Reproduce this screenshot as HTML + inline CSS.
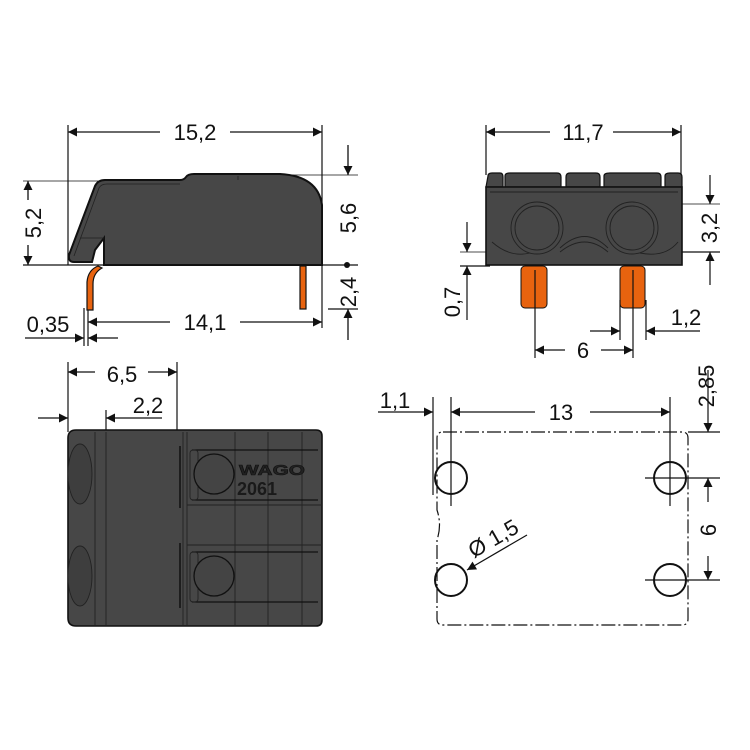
<!DOCTYPE html>
<html><head><meta charset="utf-8"><style>
html,body{margin:0;padding:0;background:#fff;}
svg{display:block;}
text{font-family:"Liberation Sans",sans-serif;font-size:22px;fill:#111;}
</style></head><body>
<svg width="750" height="750" viewBox="0 0 750 750" xmlns="http://www.w3.org/2000/svg">
<defs>
<marker id="a" viewBox="0 0 10 10" refX="10" refY="5" markerWidth="16" markerHeight="9" markerUnits="userSpaceOnUse" orient="auto"><path d="M0,0 L10,5 L0,10 Z" fill="#111"/></marker>
</defs>
<g stroke="#111" stroke-width="1.2" fill="none">
<line x1="68" y1="125" x2="68" y2="265"/>
<line x1="322" y1="125" x2="322" y2="328"/>
<line x1="23" y1="181" x2="100" y2="181" stroke-width="0.8"/>
<line x1="23" y1="265" x2="358" y2="265"/>
<line x1="290" y1="175" x2="358" y2="175" stroke-width="0.8"/>
<line x1="328" y1="309" x2="358" y2="309"/>
<line x1="84" y1="308" x2="84" y2="346"/>
<line x1="88" y1="308" x2="88" y2="346"/>
</g>
<path d="M322,265 L104,265 L104,238 L95,250 L92,262 L74,262 Q68,262 69,255 L95,186 Q98,180 105,180 L180,180 Q184,180 186,177 Q188,174 194,174 L280,174 Q318,176 322,205 Z" fill="#474747" stroke="#111" stroke-width="2"/>
<path d="M74,256 L99,188 Q101,184 107,184 L180,184 M104,238 L80,238 M238,176 L238,180" stroke="#222" stroke-width="0.8" fill="none"/>
<path d="M98,266 Q88,270 87,282 L87,310 L93,310 L93,284 Q93,273 102,268 Z" fill="#e8630f" stroke="#111" stroke-width="1.2"/>
<rect x="300" y="266" width="6" height="43" fill="#e8630f" stroke="#111" stroke-width="1.2"/>
<g stroke="#111" stroke-width="1.3" fill="none">
<line x1="160" y1="132" x2="68" y2="132" marker-end="url(#a)"/>
<line x1="230" y1="132" x2="322" y2="132" marker-end="url(#a)"/>
<line x1="28" y1="200" x2="28" y2="181" marker-end="url(#a)"/>
<line x1="28" y1="245" x2="28" y2="265" marker-end="url(#a)"/>
<line x1="348" y1="145" x2="348" y2="175" marker-end="url(#a)"/>
<line x1="348" y1="340" x2="348" y2="309" marker-end="url(#a)"/>
<line x1="170" y1="322" x2="88" y2="322" marker-end="url(#a)"/>
<line x1="240" y1="322" x2="322" y2="322" marker-end="url(#a)"/>
<line x1="25" y1="338" x2="84" y2="338" marker-end="url(#a)"/>
<line x1="118" y1="338" x2="88" y2="338" marker-end="url(#a)"/>
</g>
<circle cx="347" cy="265" r="3" fill="#111"/>
<text x="195" y="140" text-anchor="middle">15,2</text>
<text transform="translate(41,223) rotate(-90)" text-anchor="middle">5,2</text>
<text transform="translate(356,218) rotate(-90)" text-anchor="middle">5,6</text>
<text transform="translate(356,292) rotate(-90)" text-anchor="middle">2,4</text>
<text x="205" y="330" text-anchor="middle">14,1</text>
<text x="48" y="332" text-anchor="middle">0,35</text>

<g stroke="#111" stroke-width="1.2" fill="none">
<line x1="486" y1="125" x2="486" y2="175"/>
<line x1="681" y1="125" x2="681" y2="175"/>
<line x1="640" y1="204" x2="720" y2="204" stroke-width="0.8"/>
<line x1="680" y1="252" x2="720" y2="252"/>
<line x1="460" y1="252" x2="490" y2="252" stroke-width="0.8"/>
<line x1="460" y1="266" x2="490" y2="266"/>
</g>
<path d="M488,176 Q488,173 492,173 L500,173 Q503,173 503,177 L503,187 L486,187 Z M505,176 Q505,173 510,173 L557,173 Q561,173 561,177 L561,187 L505,187 Z M566,177 Q566,173 570,173 L596,173 Q600,173 600,177 L600,187 L566,187 Z M604,176 Q604,173 610,173 L657,173 Q661,173 661,177 L661,187 L604,187 Z M665,176 Q665,173 670,173 L678,173 Q682,173 682,177 L682,187 L665,187 Z" fill="#474747" stroke="#111" stroke-width="1.2"/>
<rect x="486" y="187" width="196" height="78" fill="#474747" stroke="#111" stroke-width="1.6"/>
<g stroke="#222" stroke-width="0.9" fill="none">
<line x1="490" y1="192" x2="678" y2="192"/>
<circle cx="537" cy="228" r="22"/><circle cx="537" cy="228" r="26"/>
<circle cx="632" cy="228" r="22"/><circle cx="632" cy="228" r="26"/>
<path d="M492,242 Q510,258 530,253 M560,248 Q585,225 608,248 M640,253 Q665,258 678,242"/>
<path d="M560,252 Q585,232 608,252"/>
</g>
<rect x="521" y="266" width="26" height="42" rx="4" fill="#e8630f" stroke="#111" stroke-width="1"/>
<rect x="620" y="266" width="25" height="42" rx="4" fill="#e8630f" stroke="#111" stroke-width="1"/>
<g stroke="#111" stroke-width="1.2" fill="none">
<line x1="535" y1="270" x2="535" y2="358"/>
<line x1="633" y1="270" x2="633" y2="358"/>
<line x1="620" y1="300" x2="620" y2="340"/>
<line x1="646" y1="300" x2="646" y2="340"/>
<line x1="550" y1="132" x2="486" y2="132" marker-end="url(#a)"/>
<line x1="613" y1="132" x2="681" y2="132" marker-end="url(#a)"/>
<line x1="710" y1="175" x2="710" y2="204" marker-end="url(#a)"/>
<line x1="710" y1="285" x2="710" y2="252" marker-end="url(#a)"/>
<line x1="467" y1="222" x2="467" y2="252" marker-end="url(#a)"/>
<line x1="467" y1="320" x2="467" y2="266" marker-end="url(#a)"/>
<line x1="565" y1="350" x2="535" y2="350" marker-end="url(#a)"/>
<line x1="601" y1="350" x2="633" y2="350" marker-end="url(#a)"/>
<line x1="590" y1="331" x2="620" y2="331" marker-end="url(#a)"/>
<line x1="700" y1="331" x2="646" y2="331" marker-end="url(#a)"/>
</g>
<text x="583" y="140" text-anchor="middle">11,7</text>
<text transform="translate(717,228) rotate(-90)" text-anchor="middle">3,2</text>
<text transform="translate(460,302) rotate(-90)" text-anchor="middle">0,7</text>
<text x="583" y="358" text-anchor="middle">6</text>
<text x="686" y="325" text-anchor="middle">1,2</text>

<g stroke="#111" stroke-width="1.2" fill="none">
<line x1="68" y1="362" x2="68" y2="432"/>
<line x1="177" y1="362" x2="177" y2="432"/>
<line x1="106" y1="410" x2="106" y2="432"/>
<line x1="95" y1="372" x2="68" y2="372" marker-end="url(#a)"/>
<line x1="148" y1="372" x2="177" y2="372" marker-end="url(#a)"/>
<line x1="38" y1="418" x2="68" y2="418" marker-end="url(#a)"/>
<line x1="162" y1="418" x2="106" y2="418" marker-end="url(#a)"/>
</g>
<path d="M76,430 L316,430 Q322,430 322,436 L322,620 Q322,626 316,626 L76,626 Q68,626 68,618 L68,438 Q68,430 76,430 Z" fill="#474747" stroke="#111" stroke-width="1.6"/>
<g stroke="#222" stroke-width="0.9" fill="none">
<ellipse cx="80" cy="474" rx="12" ry="30" fill="#3e3e3e"/>
<ellipse cx="80" cy="576" rx="12" ry="30" fill="#3e3e3e"/>
<line x1="106" y1="432" x2="106" y2="625"/>
<line x1="95" y1="432" x2="95" y2="625"/>
<line x1="183" y1="432" x2="183" y2="625"/>
<line x1="187" y1="432" x2="187" y2="625"/>
<line x1="187" y1="505" x2="322" y2="505"/>
<line x1="187" y1="545" x2="322" y2="545"/>
<line x1="235" y1="432" x2="235" y2="625"/>
<line x1="268" y1="432" x2="268" y2="625"/>
<line x1="302" y1="432" x2="302" y2="625"/>
<path d="M180,446 L180,508 M180,543 L180,608" stroke="#111" stroke-width="1.5"/>
<path d="M192,450 L318,450 M192,500 L318,500 M192,552 L318,552 M192,602 L318,602" stroke="#111" stroke-width="1.3"/>
<rect x="190" y="450" width="8" height="50" rx="3"/>
<rect x="190" y="552" width="8" height="50" rx="3"/>
</g>
<circle cx="214" cy="474" r="20" fill="#444" stroke="#111" stroke-width="1.3"/>
<circle cx="214" cy="576" r="20" fill="#444" stroke="#111" stroke-width="1.3"/>
<text x="239" y="475" style="font-size:15px;font-weight:bold;fill:#222;stroke:#111;stroke-width:0.6" textLength="66" lengthAdjust="spacingAndGlyphs">WAGO</text>
<text x="237" y="495" style="font-size:18px;font-weight:bold;fill:#1a1a1a" textLength="40" lengthAdjust="spacingAndGlyphs">2061</text>
<text x="122" y="382" text-anchor="middle">6,5</text>
<text x="148" y="413" text-anchor="middle">2,2</text>

<g stroke="#111" stroke-width="1.2" fill="none">
<path d="M443,432 L682,432 Q688,432 688,438 L688,619 Q688,625 682,625 L443,625 Q437,625 437,619 L437,540 Q442,525 437,510 L437,438 Q437,432 443,432 Z" stroke-dasharray="14,3,2,3"/>
<line x1="433" y1="397" x2="433" y2="495"/>
<line x1="451" y1="397" x2="451" y2="506"/>
<line x1="670" y1="397" x2="670" y2="506"/>
<line x1="645" y1="478" x2="720" y2="478"/>
<line x1="645" y1="580" x2="720" y2="580"/>
<line x1="688" y1="432" x2="720" y2="432"/>
<circle cx="451" cy="478" r="16" stroke-width="2"/>
<circle cx="670" cy="478" r="16" stroke-width="2"/>
<circle cx="451" cy="580" r="16" stroke-width="2"/>
<circle cx="670" cy="580" r="16" stroke-width="2"/>
<line x1="378" y1="412" x2="433" y2="412" marker-end="url(#a)"/>
<line x1="535" y1="412" x2="451" y2="412" marker-end="url(#a)"/>
<line x1="590" y1="412" x2="670" y2="412" marker-end="url(#a)"/>
<line x1="708" y1="370" x2="708" y2="432" marker-end="url(#a)"/>
<line x1="708" y1="502" x2="708" y2="478" marker-end="url(#a)"/>
<line x1="708" y1="556" x2="708" y2="580" marker-end="url(#a)"/>
<line x1="527" y1="535" x2="467" y2="570" marker-end="url(#a)"/>
</g>
<text x="395" y="408" text-anchor="middle">1,1</text>
<text x="561" y="420" text-anchor="middle">13</text>
<text transform="translate(714,386) rotate(-90)" text-anchor="middle">2,85</text>
<text transform="translate(716,530) rotate(-90)" text-anchor="middle">6</text>
<text transform="translate(497,545) rotate(-30)" text-anchor="middle">Ø 1,5</text>
</svg>
</body></html>
